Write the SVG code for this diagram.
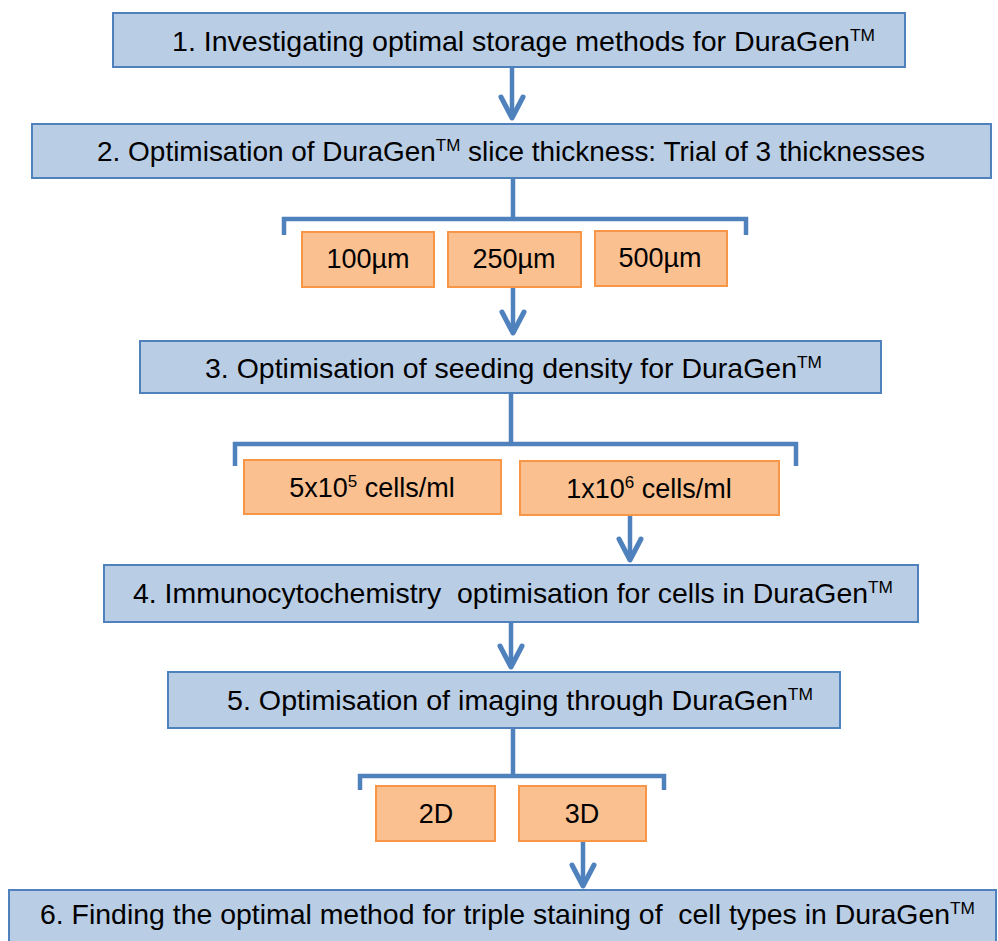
<svg xmlns="http://www.w3.org/2000/svg" width="998" height="941" viewBox="0 0 998 941">
<style>
.step{fill:#b9cde5;stroke:#4f81bd;stroke-width:2}
.opt{fill:#fac090;stroke:#f79646;stroke-width:2}
.t{font-family:"Liberation Sans",Arial,sans-serif;font-size:28px;fill:#000;white-space:pre}
.o{font-family:"Liberation Sans",Arial,sans-serif;font-size:27px;fill:#000;text-anchor:middle;white-space:pre}
.sup{font-size:17px}
.ln{fill:none;stroke:#4f81bd;stroke-width:4.5}
</style>
<defs>
<marker id="ah" markerUnits="userSpaceOnUse" markerWidth="40" markerHeight="40" refX="0" refY="0" orient="auto" overflow="visible">
<path d="M-21,-11 L0,0 L-21,11" fill="none" stroke="#4f81bd" stroke-width="5" stroke-linejoin="round" stroke-linecap="round"/>
</marker>
</defs>
<rect width="998" height="941" fill="#fff"/>
<g id="connectors">
<path class="ln" d="M512 67 V118" marker-end="url(#ah)"/>
<path class="ln" d="M513 178 V219 M284 235 V219 H746 V235"/>
<path class="ln" d="M513 287 V333" marker-end="url(#ah)"/>
<path class="ln" d="M511 393 V444 M235 466 V444 H796 V466"/>
<path class="ln" d="M630 515 V560" marker-end="url(#ah)"/>
<path class="ln" d="M511 622 V667" marker-end="url(#ah)"/>
<path class="ln" d="M513 728 V776 M360 790 V776 H664 V790"/>
<path class="ln" d="M583 841 V886" marker-end="url(#ah)"/>
</g>
<g id="step1">
<rect class="step" x="113" y="13" width="792" height="54"/>
<text class="t" x="172" y="51" textLength="703" lengthAdjust="spacingAndGlyphs">1. Investigating optimal storage methods for DuraGen<tspan class="sup" dy="-10">TM</tspan></text>
</g>
<g id="step2">
<rect class="step" x="32" y="124" width="959" height="54"/>
<text class="t" x="97" y="161" textLength="828" lengthAdjust="spacingAndGlyphs">2. Optimisation of DuraGen<tspan class="sup" dy="-10">TM</tspan><tspan dy="10"> slice thickness: Trial of 3 thicknesses</tspan></text>
</g>
<g id="opt100">
<rect class="opt" x="302" y="232" width="132" height="55"/>
<text class="o" x="368" y="268">100µm</text>
</g>
<g id="opt250">
<rect class="opt" x="448" y="232" width="133" height="55"/>
<text class="o" x="514" y="268">250µm</text>
</g>
<g id="opt500">
<rect class="opt" x="595" y="231" width="132" height="55"/>
<text class="o" x="660" y="267">500µm</text>
</g>
<g id="step3">
<rect class="step" x="140" y="341" width="741" height="52"/>
<text class="t" x="205" y="378" textLength="617" lengthAdjust="spacingAndGlyphs">3. Optimisation of seeding density for DuraGen<tspan class="sup" dy="-10">TM</tspan></text>
</g>
<g id="dens5">
<rect class="opt" x="244" y="460" width="257" height="54"/>
<text class="o" x="372" y="497">5x10<tspan class="sup" dy="-10">5</tspan><tspan dy="10"> cells/ml</tspan></text>
</g>
<g id="dens1">
<rect class="opt" x="520" y="461" width="259" height="54"/>
<text class="o" x="649" y="498">1x10<tspan class="sup" dy="-10">6</tspan><tspan dy="10"> cells/ml</tspan></text>
</g>
<g id="step4">
<rect class="step" x="104" y="565" width="814" height="57"/>
<text class="t" x="133" y="603" textLength="760" lengthAdjust="spacingAndGlyphs">4. Immunocytochemistry  optimisation for cells in DuraGen<tspan class="sup" dy="-10">TM</tspan></text>
</g>
<g id="step5">
<rect class="step" x="168" y="672" width="672" height="56"/>
<text class="t" x="227" y="710" textLength="586" lengthAdjust="spacingAndGlyphs">5. Optimisation of imaging through DuraGen<tspan class="sup" dy="-10">TM</tspan></text>
</g>
<g id="img2d">
<rect class="opt" x="376" y="786" width="119" height="55"/>
<text class="o" x="436" y="823">2D</text>
</g>
<g id="img3d">
<rect class="opt" x="519" y="786" width="127" height="55"/>
<text class="o" x="582" y="823">3D</text>
</g>
<g id="step6">
<rect class="step" x="9" y="890" width="987" height="60"/>
<text class="t" x="40" y="924" textLength="935" lengthAdjust="spacingAndGlyphs">6. Finding the optimal method for triple staining of  cell types in DuraGen<tspan class="sup" dy="-10">TM</tspan></text>
</g>
</svg>
